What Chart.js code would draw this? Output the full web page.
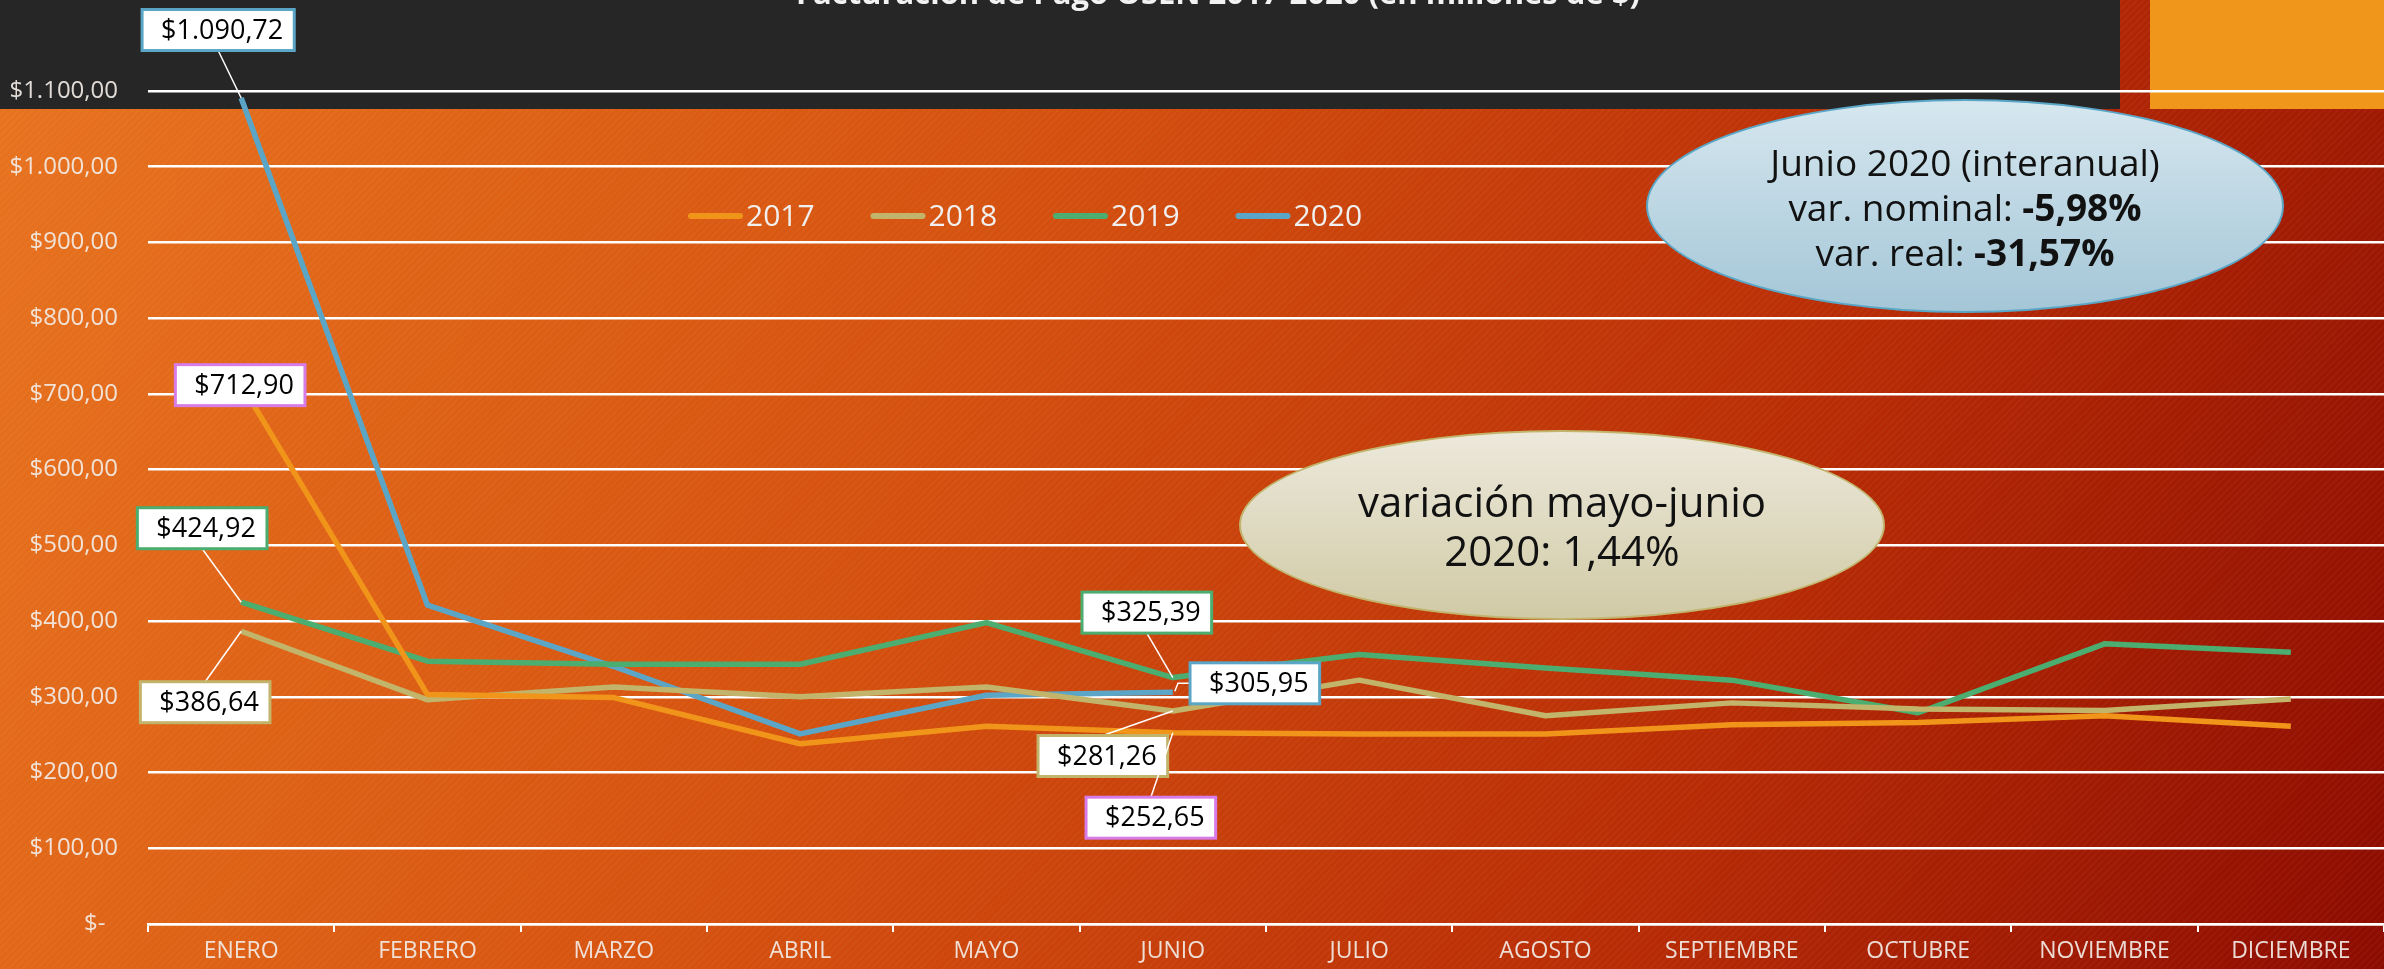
<!DOCTYPE html>
<html>
<head>
<meta charset="utf-8">
<script src="https://cdn.jsdelivr.net/npm/chart.js@4.4.0/dist/chart.umd.min.js"></script>
<style>
  html, body { margin: 0; padding: 0; }
  body {
    width: 2384px; height: 969px; overflow: hidden; position: relative;
    background:
      repeating-linear-gradient(135deg, rgba(255,255,255,0.03) 0 2px, rgba(0,0,0,0) 2px 5px),
      linear-gradient(112deg, #E8741F 0%, #D6520F 38%, #B82C05 72%, #8C0B00 100%);
  }
  #band { position: absolute; left: 0; top: 0; width: 2120px; height: 109px; background: #262626; }
  #corner { position: absolute; left: 2150px; top: 0; width: 234px; height: 109px; background: #F0961A; }
  #wrap { position: absolute; left: 0; top: 0; width: 2384px; height: 969px; }
  .oval {
    position: absolute; border-radius: 50%; box-sizing: border-box;
    display: flex; flex-direction: column; justify-content: center; align-items: center;
    font-family: 'Open Sans', sans-serif; color: #111;
  }
  .oval div { white-space: nowrap; }
  #ovalJunio {
    left: 1646px; top: 99px; width: 638px; height: 214px;
    background: linear-gradient(to bottom, #D6E7EF, #A4C6D7);
    border: 2px solid #5AA6C6;
    font-size: 37px; line-height: 45px;
  }
  #ovalMayo {
    left: 1239px; top: 430px; width: 646px; height: 190px;
    background: linear-gradient(to bottom, #EDE9DC, #D1CAA6);
    border: 2px solid #C2B46C;
    font-size: 42px; line-height: 49px;
  }
</style>
</head>
<body>
<div id="band"></div>
<div id="corner"></div>
<div id="wrap"><canvas id="chart" width="2384" height="969"></canvas></div>
<div class="oval" id="ovalJunio">
  <div>Junio 2020 (interanual)</div>
  <div>var. nominal: <b>-5,98%</b></div>
  <div>var. real: <b>-31,57%</b></div>
</div>
<div class="oval" id="ovalMayo">
  <div>variación mayo-junio</div>
  <div>2020: 1,44%</div>
</div>
<script>
// Datos (en millones de $)
const meses = ['ENERO', 'FEBRERO', 'MARZO', 'ABRIL', 'MAYO', 'JUNIO', 'JULIO',
               'AGOSTO', 'SEPTIEMBRE', 'OCTUBRE', 'NOVIEMBRE', 'DICIEMBRE'];
const anios = ['2017', '2018', '2019', '2020'];
const datos2017 = [712.90, 303, 299, 238, 261, 252.65, 251, 251, 263, 266, 275, 261];
const datos2018 = [386.64, 296, 313, 300, 313, 281.26, 322, 275, 292, 284, 282, 297];
const datos2019 = [424.92, 347, 343, 343, 398, 325.39, 356, 338, 322, 279, 370, 359];
const datos2020 = [1090.72, 421, 340, 251, 302, 305.95, null, null, null, null, null, null];
const colores = ['#F0951A', '#C2B46A', '#4BAE70', '#5BA6C6'];
const titulo = 'Facturación de Pago OSEN 2017-2020 (en millones de $)';

// Formato "$1.090,72"
function pesos(v) {
    var partes = v.toFixed(2).split('.');
    return '$' + partes[0].replace(/\B(?=(\d{3})+(?!\d))/g, '.') + ',' + partes[1];
}

// Etiquetas de datos: serie, mes, desplazamiento de la caja y color del borde
const etiquetas = [
    { serie: 3, mes: 0, dx: -23, dy: -68, borde: '#5BA6C6' },
    { serie: 0, mes: 0, dx: -1,  dy: 1,   borde: '#D77BE6', sinGuia: true },
    { serie: 2, mes: 0, dx: -39, dy: -74, borde: '#4BAE70' },
    { serie: 1, mes: 0, dx: -36, dy: 71,  borde: '#C2B46A' },
    { serie: 2, mes: 5, dx: -26, dy: -65, borde: '#4BAE70' },
    { serie: 3, mes: 5, dx: 82,  dy: -9,  borde: '#5BA6C6', lateral: true },
    { serie: 1, mes: 5, dx: -70, dy: 45,  borde: '#C2B46A' },
    { serie: 0, mes: 5, dx: -22, dy: 85,  borde: '#D77BE6' }
];

const decoracion = {
    id: 'decoracion',
    afterDatasetsDraw(chart) {
        const ctx = chart.ctx;
        ctx.save();

        // Título (cortado arriba, como en la imagen)
        ctx.fillStyle = '#F2F2F2';
        ctx.font = 'bold 31px "Open Sans"';
        ctx.textAlign = 'center';
        ctx.textBaseline = 'alphabetic';
        ctx.fillText(titulo, 1218, 4);

        // Leyenda
        ctx.font = '30px "Open Sans"';
        ctx.textAlign = 'left';
        ctx.textBaseline = 'middle';
        chart.data.datasets.forEach(function(ds, i) {
            var x = 688 + i * 182.5;
            ctx.strokeStyle = ds.borderColor;
            ctx.lineWidth = 6;
            ctx.lineCap = 'round';
            ctx.beginPath();
            ctx.moveTo(x + 3, 216);
            ctx.lineTo(x + 52, 216);
            ctx.stroke();
            ctx.fillStyle = '#F0F0F0';
            ctx.fillText(ds.label, x + 58, 217);
        });

        // Cajas con valores
        ctx.font = '27px "Open Sans"';
        ctx.textAlign = 'center';
        etiquetas.forEach(function(e) {
            var p = chart.getDatasetMeta(e.serie).data[e.mes];
            var valor = chart.data.datasets[e.serie].data[e.mes];
            var texto = pesos(valor);
            var w = ctx.measureText(texto).width + 30;
            var h = 41;
            var cx = p.x + e.dx, cy = p.y + e.dy;

            if (!e.sinGuia) {
                ctx.strokeStyle = '#FFFFFF';
                ctx.lineWidth = 1.5;
                ctx.lineCap = 'butt';
                ctx.beginPath();
                if (e.lateral) {
                    ctx.moveTo(cx - w / 2, cy);
                    ctx.lineTo(cx - w / 2 - 12, cy);
                    ctx.lineTo(p.x + 2, p.y - 1);
                } else if (e.dy < 0) {
                    ctx.moveTo(cx, cy + h / 2);
                    ctx.lineTo(p.x, p.y);
                } else {
                    ctx.moveTo(cx, cy - h / 2);
                    ctx.lineTo(p.x, p.y);
                }
                ctx.stroke();
            }

            ctx.fillStyle = '#FFFFFF';
            ctx.fillRect(cx - w / 2, cy - h / 2, w, h);
            ctx.strokeStyle = e.borde;
            ctx.lineWidth = 3;
            ctx.strokeRect(cx - w / 2, cy - h / 2, w, h);
            ctx.fillStyle = '#000000';
            ctx.fillText(texto, cx + 4, cy + 1);
        });
        ctx.restore();
    }
};

const series = [datos2017, datos2018, datos2019, datos2020];

new Chart(document.getElementById('chart').getContext('2d'), {
    type: 'line',
    data: {
        labels: meses,
        datasets: series.map(function(d, i) {
            return {
                label: anios[i],
                data: d,
                borderColor: colores[i],
                backgroundColor: colores[i],
                borderWidth: 5.5,
                pointRadius: 0,
                tension: 0,
                borderJoinStyle: 'round',
                spanGaps: false
            };
        })
    },
    options: {
        responsive: false,
        animation: false,
        devicePixelRatio: 1,
        layout: { padding: { top: 91, left: 0, right: 0, bottom: 0 } },
        plugins: {
            legend: { display: false },
            tooltip: { enabled: false }
        },
        scales: {
            x: {
                offset: true,
                grid: {
                    offset: true, drawOnChartArea: false, drawTicks: true,
                    tickLength: 8, color: '#FFFFFF', lineWidth: 2
                },
                border: { display: true, color: '#FFFFFF', width: 2.5 },
                ticks: {
                    color: 'rgba(242,236,230,0.92)',
                    font: { family: 'Open Sans', size: 23 },
                    padding: 6, maxRotation: 0, autoSkip: false
                },
                afterFit: function(s) { s.height = 45; }
            },
            y: {
                min: 0, max: 1100,
                grid: { color: '#FFFFFF', lineWidth: 2.5, drawTicks: false },
                border: { display: false },
                ticks: {
                    stepSize: 100,
                    color: 'rgba(242,236,230,0.92)',
                    font: { family: 'Open Sans', size: 24 },
                    padding: 30,
                    callback: function(v) { return v === 0 ? '$-  ' : pesos(v); }
                },
                afterFit: function(s) { s.width = 148; }
            }
        }
    },
    plugins: [decoracion]
});
</script>
</body>
</html>
